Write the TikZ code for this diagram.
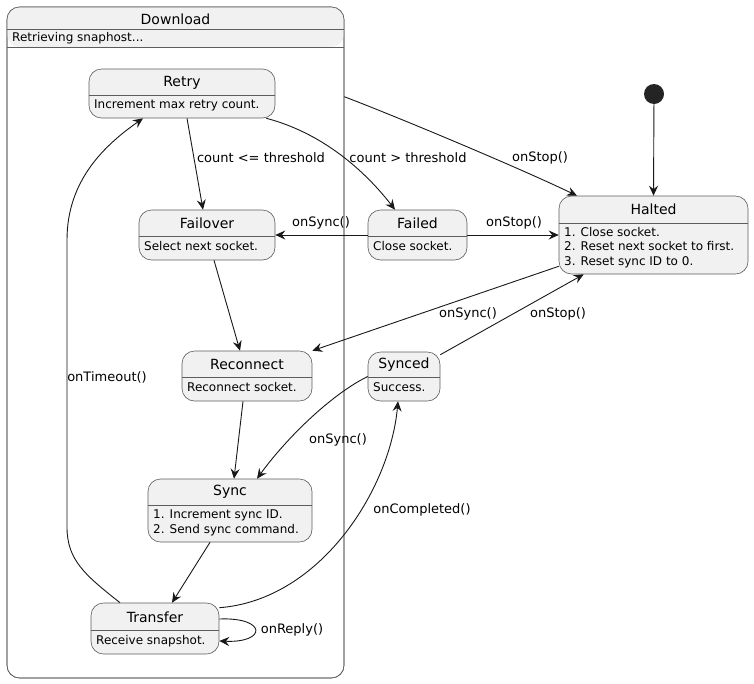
\documentclass[tikz,border=0pt]{standalone}
\usepackage{fontspec}
\setmainfont{DejaVu Sans}
\usetikzlibrary{arrows.meta}
\definecolor{stfill}{HTML}{F1F1F1}
\definecolor{stline}{HTML}{181818}
\tikzset{
  umlstate/.style={draw=stline!70, line width=0.6pt, fill=stfill, rounded corners=12.5pt, inner sep=0pt, minimum width=#1},
  divider/.style={draw=stline!70, line width=0.6pt},
  sttitle/.style={font=\fontsize{14}{16}\selectfont, inner sep=0pt},
  stbody/.style={font=\fontsize{12}{14.5}\selectfont, inner sep=0pt, align=left, anchor=north west},
  lbl/.style={font=\fontsize{13}{15}\selectfont, inner sep=0pt},
  edge/.style={draw=stline, line width=0.9pt, -{Stealth[length=10pt,width=9pt,inset=3.5pt]}},
  initdot/.style={circle, fill=stline!95, inner sep=0pt, minimum size=20pt}
}
\begin{document}
\begin{tikzpicture}[x=1pt,y=-1pt]
\useasboundingbox (0,0) rectangle (754,683);
% Download composite
\node[umlstate=337pt, minimum height=671pt, fill=none] (download) at (175.5,342.5) {};
\fill[stfill, rounded corners=12.5pt] (7,47) -- (7,7) -- (344,7) -- (344,47) -- cycle;
\node[umlstate=337pt, minimum height=671pt, fill=none] (downloadbd) at (175.5,342.5) {};
\draw[divider] (7,29) -- (344,29);
\draw[divider] (7,47) -- (344,47);
\node[sttitle] (downloadt) at (175.5,19) {Download};
\node[stbody, anchor=west] (downloadb) at (12,38) {Retrieving snaphost...};

% Retry
\node[umlstate=186pt, minimum height=49pt] (retry) at (182,93.5) {};
\draw[divider] (retry.west |- 0,95) -- (retry.east |- 0,95);
\node[sttitle] (retryt) at (182,83) {Retry};
\node[stbody] (retryb) at (94,100) {Increment max retry count.};

% Failover
\node[umlstate=136pt, minimum height=50pt] (failover) at (207,235) {};
\draw[divider] (failover.west |- 0,236) -- (failover.east |- 0,236);
\node[sttitle] (failovert) at (207,223) {Failover};
\node[stbody] (failoverb) at (144,241) {Select next socket.};

% Failed
\node[umlstate=99pt, minimum height=50pt] (failed) at (417.5,235) {};
\draw[divider] (failed.west |- 0,236) -- (failed.east |- 0,236);
\node[sttitle] (failedt) at (417.5,223) {Failed};
\node[stbody] (failedb) at (373,241) {Close socket.};

% Halted
\node[umlstate=189pt, minimum height=78pt] (halted) at (653.5,235) {};
\draw[divider] (halted.west |- 0,223) -- (halted.east |- 0,223);
\node[sttitle] (haltedt) at (653.5,209) {Halted};
\node[stbody] (haltedb) at (564,227) {1. Close socket.\\2. Reset next socket to first.\\3. Reset sync ID to 0.};

% initial
\node[initdot] (init) at (654,94) {};

% Synced
\node[umlstate=72pt, minimum height=49pt] (synced) at (404,376.5) {};
\draw[divider] (synced.west |- 0,377) -- (synced.east |- 0,377);
\node[sttitle] (syncedt) at (404,365) {Synced};
\node[stbody] (syncedb) at (373,382) {Success.};

% Reconnect
\node[umlstate=130pt, minimum height=50pt] (reconnect) at (247,376) {};
\draw[divider] (reconnect.west |- 0,377) -- (reconnect.east |- 0,377);
\node[sttitle] (reconnectt) at (247,364) {Reconnect};
\node[stbody] (reconnectb) at (187,382) {Reconnect socket.};

% Sync
\node[umlstate=164pt, minimum height=63pt] (sync) at (230,510.5) {};
\draw[divider] (sync.west |- 0,505) -- (sync.east |- 0,505);
\node[sttitle] (synct) at (230,492) {Sync};
\node[stbody] (syncb) at (153,510) {1. Increment sync ID.\\2. Send sync command.};

% Transfer
\node[umlstate=128pt, minimum height=51pt] (transfer) at (155,628.5) {};
\draw[divider] (transfer.west |- 0,630) -- (transfer.east |- 0,630);
\node[sttitle] (transfert) at (155,617) {Transfer};
\node[stbody] (transferb) at (96,635) {Receive snapshot.};

% edges
\draw[edge] ([yshift=-90pt]download.north east) .. controls (400,118) and (517,167) .. ([xshift=-76.5pt]halted.north);
\draw[edge] (init) -- (halted.north);
\draw[edge] ([xshift=5pt]retry.south) -- ([xshift=-4pt]failover.north);
\draw[edge] ([xshift=-9pt]retry.south east) .. controls (330,135) and (372,180) .. ([xshift=-22.5pt]failed.north);
\draw[edge] (failed.west) -- (failover.east);
\draw[edge] (failed.east) -- (halted.west);
\draw[edge] ([yshift=8pt]halted.south west) -- (reconnect.north east);
\draw[edge] ([yshift=-3pt]synced.north east) -- ([xshift=25pt]halted.south west);
\draw[edge] ([xshift=7pt]failover.south) -- ([xshift=-7pt]reconnect.north);
\draw[edge] ([xshift=-4pt]reconnect.south) -- ([xshift=4pt]sync.north);
\draw[edge] (synced.west) .. controls (330,395) and (285,440) .. ([xshift=27pt]sync.north);
\draw[edge] ([xshift=-20pt]sync.south) -- ([xshift=17pt]transfer.north);
\draw[edge] ([yshift=-5pt]transfer.north east) .. controls (320,600) and (390,490) .. ([xshift=-6pt]synced.south);
\draw[edge] ([xshift=-35pt]transfer.north) .. controls (85,575) and (67,560) .. (67,527) -- (67,240) .. controls (67,180) and (105,145) .. ([xshift=-39pt]retry.south);
\draw[edge] ([yshift=9.5pt]transfer.east) .. controls (267,617) and (267,643) .. ([yshift=-12.5pt]transfer.east);

% labels
\node[lbl] (l1) at (540,158) {onStop()};
\node[lbl] (l2) at (261,158) {count <= threshold};
\node[lbl] (l3) at (408,158) {count > threshold};
\node[lbl] (l4) at (321,223) {onSync()};
\node[lbl] (l5) at (514,223) {onStop()};
\node[lbl] (l6) at (468,314) {onSync()};
\node[lbl] (l7) at (558,314) {onStop()};
\node[lbl] (l8) at (338,440) {onSync()};
\node[lbl] (l9) at (422,510) {onCompleted()};
\node[lbl] (l10) at (107,377) {onTimeout()};
\node[lbl] (l11) at (292,630) {onReply()};
\end{tikzpicture}
\end{document}
